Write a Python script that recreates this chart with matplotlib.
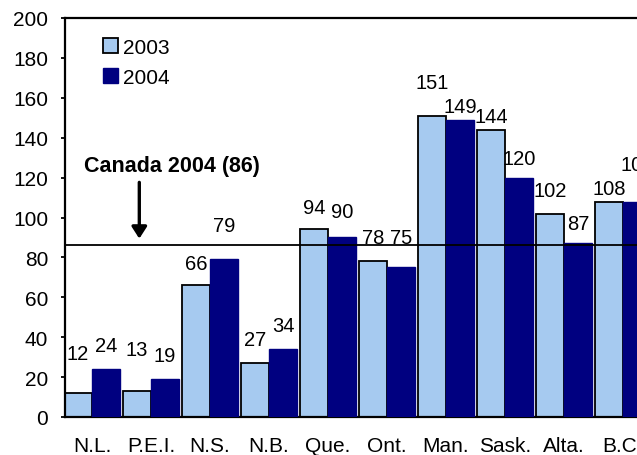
import numpy as np
import matplotlib.pyplot as plt

# ---- data ----
provinces = ["N.L.", "P.E.I.", "N.S.", "N.B.", "Que.", "Ont.", "Man.", "Sask.", "Alta.", "B.C."]
vals_2003 = [12, 13, 66, 27, 94, 78, 151, 144, 102, 108]
vals_2004 = [24, 19, 79, 34, 90, 75, 149, 120, 87, 108]
canada_2004 = 86

# label lift above each bar (the original labels were placed by hand)
lift_2003 = [15, 16, 6, 7, 6, 7, 12, 2, 7, 2]
lift_2004 = [7, 7, 12, 7, 8, 10, 2, 5, 5, 14]

light = "#A6CAF0"
navy = "#000080"

plt.rcParams['font.family'] = ['Liberation Sans', 'DejaVu Sans']

fig = plt.figure(figsize=(6.37, 4.56), dpi=100)
ax = fig.add_axes([65 / 637, 38 / 456, 585 / 637, 399 / 456])

x = np.arange(len(provinces))
w = 0.475
ax.bar(x - w / 2, vals_2003, w, color=light, edgecolor="black", linewidth=1.3, label="2003", zorder=2)
ax.bar(x + w / 2, vals_2004, w, color=navy, edgecolor=navy, linewidth=1.0, label="2004", zorder=3)

for i in range(len(provinces)):
    ax.text(x[i] - w / 2, vals_2003[i] + lift_2003[i], str(vals_2003[i]), ha="center", va="bottom",
            fontsize=14.5)
    ax.text(x[i] + w / 2, vals_2004[i] + lift_2004[i], str(vals_2004[i]), ha="center", va="bottom",
            fontsize=14.5)

ax.axhline(canada_2004, color="black", linewidth=1.3, zorder=4)
ax.annotate("", xy=(0.8, canada_2004 + 2), xytext=(0.8, 119),
            arrowprops=dict(arrowstyle="-|>,head_length=0.7,head_width=0.45", color="black", lw=2.4))
ax.text(1.36, 126, "Canada 2004 (86)", ha="center", va="center", fontsize=15.5, fontweight="bold")

ax.set_xlim(-0.46, 9.46)
ax.set_ylim(0, 200)
ax.set_yticks(range(0, 201, 20))
ax.set_xticks(x)
ax.set_xticklabels(provinces)
ax.tick_params(axis="x", length=0, pad=13.5, labelsize=15)
ax.tick_params(axis="y", length=3, width=1.3, pad=9, labelsize=15)
for s in ax.spines.values():
    s.set_linewidth(1.6)

ax.legend(loc="upper left", bbox_to_anchor=(0.05, 0.972), frameon=False, fontsize=15,
          handlelength=0.75, handleheight=0.75, handletextpad=0.25, labelspacing=0.55, borderaxespad=0)

fig.savefig("out.png", dpi=100)
